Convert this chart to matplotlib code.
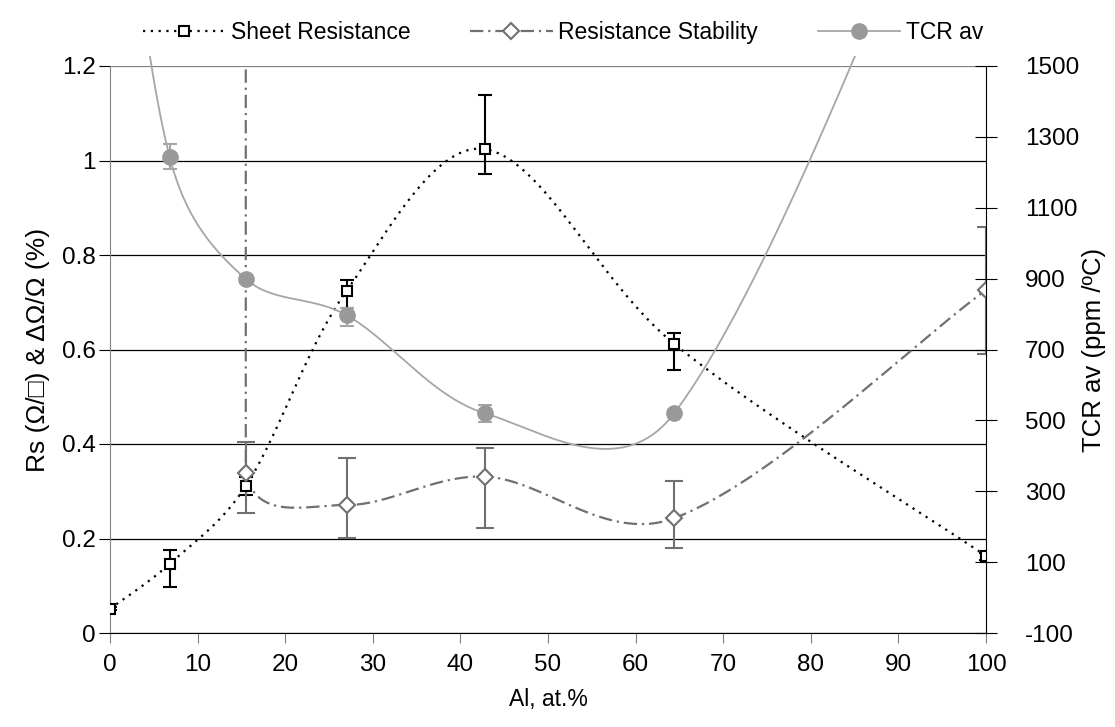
import numpy as np
import matplotlib
matplotlib.use("Agg")
import matplotlib.pyplot as plt
from matplotlib.lines import Line2D
from matplotlib.patches import Rectangle
from matplotlib.ticker import FuncFormatter

plt.rcParams["font.family"] = ["Liberation Sans", "DejaVu Sans"]
plt.rcParams["font.size"] = 16
plt.rcParams["xtick.labelsize"] = 17.5
plt.rcParams["ytick.labelsize"] = 17.5
plt.rcParams["axes.unicode_minus"] = False

# Al content of the films, at.%
al_pct = [0, 6.8, 15.5, 27, 42.8, 64.4, 100]

# sheet resistance with error limits
rs = [0.051, 0.146, 0.311, 0.724, 1.024, 0.612, 0.163]
rs_lo = [0.048, 0.097, 0.292, 0.688, 0.972, 0.557, 0.155]
rs_hi = [0.054, 0.176, 0.330, 0.747, 1.139, 0.635, 0.170]

# resistance stability (first sample is off scale)
stab_x = [15.5, 15.5, 27, 42.8, 64.4, 100]
stab = [1.3, 0.339, 0.271, 0.331, 0.243, 0.726]
stab_lo = [1.3, 0.254, 0.201, 0.222, 0.180, 0.590]
stab_hi = [1.3, 0.404, 0.370, 0.392, 0.322, 0.859]

# average TCR, ppm/C (pure metals are off scale)
tcr = [2400, 1244, 899, 797, 520, 520, 2400]
tcr_lo = [2400, 1209, 889, 766, 496, 510, 2400]
tcr_hi = [2400, 1279, 909, 817, 543, 530, 2400]

RS_COLOR = "black"
STAB_COLOR = "#707070"
TCR_COLOR = "#a6a6a6"
TCR_MARK = "#999999"
DOT = (0, (1, 2.5))
DASHDOT = (0, (6, 2.2, 1, 2.2))


def smooth(ax, xs, ys, n=60):
    """Bezier smoothing in screen space, like a spreadsheet 'smoothed line'."""
    pts = ax.transData.transform(np.column_stack([xs, ys]))
    out = [pts[0]]
    for i in range(len(pts) - 1):
        p1, p2 = pts[i], pts[i + 1]
        if np.isclose(p1[0], p2[0]):
            out.append(p2)
            continue
        p0 = pts[i - 1] if i > 0 else p1
        p3 = pts[i + 2] if i + 2 < len(pts) else p2
        d01 = np.hypot(*(p1 - p0))
        d12 = np.hypot(*(p2 - p1))
        d23 = np.hypot(*(p3 - p2))
        k1 = np.sqrt(2 * d12 / (d01 + d12)) / 6
        k2 = np.sqrt(2 * d12 / (d12 + d23)) / 6
        c1 = p1 + (p2 - p0) * k1
        c2 = p2 - (p3 - p1) * k2
        t = np.linspace(0, 1, n)[1:, None]
        seg = ((1 - t) ** 3) * p1 + 3 * t * (1 - t) ** 2 * c1 \
            + 3 * t ** 2 * (1 - t) * c2 + t ** 3 * p2
        out.extend(seg)
    return ax.transData.inverted().transform(np.array(out))


fig = plt.figure(figsize=(11.15, 7.27), dpi=100)
ax = fig.add_axes([110 / 1115, 1 - 633 / 727, 876 / 1115, 567 / 727])
ax2 = ax.twinx()

ax.set_xlim(0, 100)
ax.set_ylim(0, 1.2)
ax2.set_ylim(-100, 1500)

ax.set_xticks(np.arange(0, 101, 10))
ax.set_yticks(np.arange(0, 1.21, 0.2))
ax.yaxis.set_major_formatter(FuncFormatter(lambda v, p: f"{v:g}"))
ax2.set_yticks(np.arange(-100, 1501, 200))

ax.grid(axis="y", color="black", lw=0.9)
ax.yaxis.get_gridlines()[-1].set_color("#808080")
ax.set_axisbelow(True)

for side in ("top", "right"):
    ax.spines[side].set_visible(False)
for side in ("left", "top", "bottom"):
    ax2.spines[side].set_visible(False)
ax.spines["left"].set_color("#808080")
ax.spines["bottom"].set_color("black")
ax2.spines["right"].set_color("black")

ax.tick_params(axis="x", direction="out", length=7, color="#808080", pad=8)
ax.tick_params(axis="y", direction="out", length=8, color="black", pad=2)
ax2.tick_params(axis="y", direction="inout", length=16, color="black", pad=20)

# sheet resistance
x, y = np.array(al_pct), np.array(rs)
sx = smooth(ax, x, y)
ax.plot(sx[:, 0], sx[:, 1], color=RS_COLOR, lw=1.6, ls=DOT, zorder=3)
ax.errorbar(x, y, yerr=[y - np.array(rs_lo), np.array(rs_hi) - y], fmt="none",
            ecolor=RS_COLOR, elinewidth=1.5, capsize=5, capthick=1.5, zorder=4)
ax.plot(x, y, ls="none", marker="s", ms=7, mfc="white", mec=RS_COLOR,
        mew=1.5, zorder=5)

# resistance stability
x, y = np.array(stab_x), np.array(stab)
sx = smooth(ax, x, y)
ax.plot(sx[:, 0], sx[:, 1], color=STAB_COLOR, lw=1.6, ls=DASHDOT, zorder=3)
ax.errorbar(x, y, yerr=[y - np.array(stab_lo), np.array(stab_hi) - y], fmt="none",
            ecolor=STAB_COLOR, elinewidth=1.5, capsize=6.5, capthick=1.5, zorder=4)
ax.plot(x, y, ls="none", marker="D", ms=8, mfc="white", mec=STAB_COLOR,
        mew=1.5, zorder=5)

# TCR on the right axis
x, y = np.array(al_pct), np.array(tcr)
sx = smooth(ax2, x, y)
tcr_line, = ax2.plot(sx[:, 0], sx[:, 1], color=TCR_COLOR, lw=1.3, zorder=3)
tcr_line.set_clip_path(Rectangle((0, 0), 1, 1 + 10 / 567, transform=ax2.transAxes))
ax2.errorbar(x, y, yerr=[y - np.array(tcr_lo), np.array(tcr_hi) - y], fmt="none",
             ecolor=TCR_COLOR, elinewidth=1.5, capsize=5, capthick=1.5, zorder=4)
ax2.plot(x, y, ls="none", marker="o", ms=11, mfc=TCR_MARK, mec=TCR_MARK, zorder=5)

ax.set_xlabel("Al, at.%", fontsize=16.5)
ax.xaxis.set_label_coords(0.5, -0.097)
ax.set_ylabel("Rs (Ω/□) & ΔΩ/Ω (%)", fontsize=19)
ax.yaxis.set_label_coords(-60 / 876, 0.5)
ax2.set_ylabel("TCR av (ppm /ºC)", fontsize=18.5)
ax2.yaxis.set_label_coords(1 + 96 / 876, 0.5)

handles = [
    Line2D([], [], color=RS_COLOR, lw=1.6, ls=DOT, marker="s", ms=7,
           mfc="white", mec=RS_COLOR, mew=1.5),
    Line2D([], [], color=STAB_COLOR, lw=1.6, ls=DASHDOT, marker="D", ms=8,
           mfc="white", mec=STAB_COLOR, mew=1.5),
    Line2D([], [], color=TCR_COLOR, lw=1.3, marker="o", ms=11,
           mfc=TCR_MARK, mec=TCR_MARK),
]
fig.legend(handles, ["Sheet Resistance", "Resistance Stability", "TCR av"],
           loc="upper center", bbox_to_anchor=(0.505, 1.0), ncol=3, frameon=False,
           handlelength=3.6, columnspacing=2.6, handletextpad=0.25, fontsize=16.5)

fig.savefig("out.png", dpi=100, facecolor="white")
